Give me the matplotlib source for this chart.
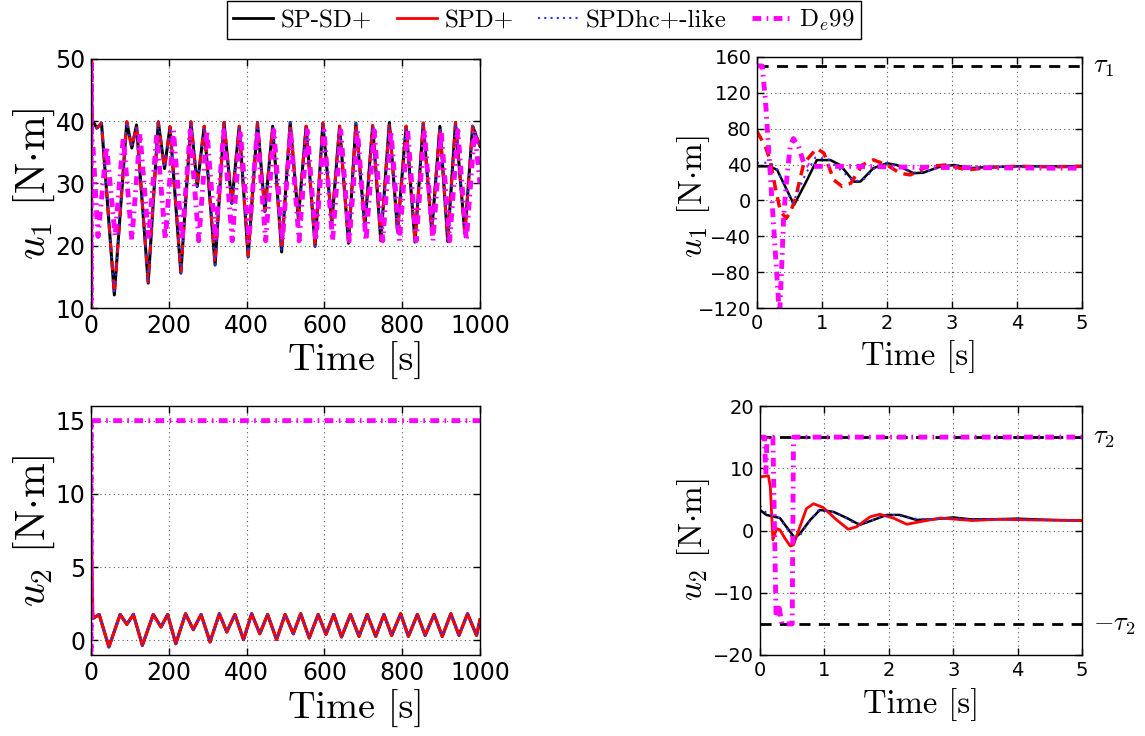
import matplotlib
matplotlib.use("Agg")
import matplotlib.pyplot as plt
from matplotlib.lines import Line2D

# ---------------- data ----------------
# long run, u1
t_u1_long = [0, 0.6, 1, 3, 15, 27, 60, 92, 105, 117, 147, 173, 189, 203, 231, 257, 273, 291,
             319, 342, 362, 381, 404, 428, 447, 467, 490, 512, 533, 553, 576, 596, 619, 639,
             662, 681, 704, 724, 745, 767, 788, 810, 833, 854, 876, 897, 917, 937, 961, 981, 1000]
u1_black_long = [38, -5, 45, 40.2, 38.9, 39.7, 12.1, 39.9, 35.7, 39.4, 14.0, 39.9, 32.4, 39.1,
                 15.6, 39.9, 29.5, 39.2, 16.9, 39.8, 26.8, 39.2, 18.2, 39.8, 25.5, 39.2, 19.0,
                 39.8, 24.4, 39.2, 19.9, 39.7, 23.6, 39.2, 20.4, 39.7, 23.1, 39.3, 20.8, 39.8,
                 22.3, 39.2, 20.6, 39.7, 22.3, 39.2, 20.7, 39.8, 22.0, 39.2, 36]
u1_red_long = [77, -20, 58, 40.2, 38.9, 39.7, 12.3, 39.9, 35.7, 39.4, 14.2, 39.9, 32.4, 39.1,
               15.8, 39.9, 29.5, 39.2, 17.1, 39.8, 26.8, 39.2, 18.4, 39.8, 25.5, 39.2, 19.2,
               39.8, 24.4, 39.2, 20.1, 39.7, 23.6, 39.2, 20.6, 39.7, 23.1, 39.3, 21.0, 39.8,
               22.3, 39.2, 20.8, 39.7, 22.3, 39.2, 20.9, 39.8, 22.0, 39.2, 36]
u1_blue_long = u1_black_long
t_u1_de_long = [0, 0.35, 0.56, 1, 5,
                18, 40, 62, 83, 105, 126, 148, 169, 191, 212, 234, 255,
                277, 298, 320, 341, 363, 384, 406, 427, 449, 470, 492, 513,
                535, 556, 578, 599, 621, 642, 664, 685, 707, 728, 750, 771,
                793, 814, 836, 857, 879, 900, 922, 943, 965, 986, 1000]
u1_de_long = [150, -120, 69, 38, 36,
              21.5, 36.0, 21.5, 37.5, 21.0, 38.0, 21.0, 38.0, 21.0, 38.5, 20.8, 38.5,
              20.8, 38.5, 20.8, 38.5, 20.8, 38.5, 20.8, 38.5, 20.8, 38.5, 20.8, 38.5,
              20.8, 38.5, 20.8, 38.5, 20.8, 38.5, 20.8, 38.5, 20.8, 38.5, 20.8, 38.5,
              20.8, 38.5, 20.8, 38.5, 20.8, 38.5, 20.8, 38.5, 20.8, 38.5, 30]

# long run, u2
t_u2_long = [0, 5, 21, 46, 75, 92, 109, 132, 160, 180, 197, 218, 243, 263, 283, 306, 330, 349,
             370, 392, 413, 434, 454, 477, 499, 520, 539, 561, 584, 604, 624, 644, 667, 689,
             710, 732, 753, 773, 796, 816, 839, 859, 882, 903, 925, 946, 968, 991, 1000]
u2_black_long = [3.3, 1.5, 1.77, -0.45, 1.77, 1.09, 1.77, -0.34, 1.77, 0.91, 1.77, -0.23, 1.82,
                 0.73, 1.77, -0.11, 1.82, 0.57, 1.77, 0.05, 1.82, 0.45, 1.77, 0.05, 1.77, 0.45,
                 1.82, 0.16, 1.77, 0.41, 1.77, 0.23, 1.77, 0.27, 1.77, 0.27, 1.77, 0.34, 1.82,
                 0.27, 1.77, 0.34, 1.77, 0.27, 1.82, 0.34, 1.82, 0.34, 1.4]
u2_red_long = [8.6, 1.5, 1.77, -0.45, 1.77, 1.09, 1.77, -0.34, 1.77, 0.91, 1.77, -0.23, 1.82,
               0.73, 1.77, -0.11, 1.82, 0.57, 1.77, 0.05, 1.82, 0.45, 1.77, 0.05, 1.77, 0.45,
               1.82, 0.16, 1.77, 0.41, 1.77, 0.23, 1.77, 0.27, 1.77, 0.27, 1.77, 0.34, 1.82,
               0.27, 1.77, 0.34, 1.77, 0.27, 1.82, 0.34, 1.82, 0.34, 1.4]
u2_blue_long = u2_black_long
t_u2_de_long = [0, 0.25, 0.5, 1000]
u2_de_long = [15, -15, 15, 15]

# first 5 s, u1
t_u1_black_s = [0, 0.2, 0.31, 0.46, 0.57, 0.77, 0.92, 1.13, 1.28, 1.49, 1.59, 1.79, 2.0, 2.15,
                2.41, 2.56, 2.82, 3.03, 3.28, 3.5, 4.0, 4.5, 5.0]
u1_black_s = [38, 38, 34, 11.6, -5, 22.8, 45, 45, 39.5, 21, 21, 36, 41.5, 39.5, 30.3, 31, 37.8,
              39.5, 36, 37, 38, 38, 38]
t_u1_red_s = [0, 0.13, 0.2, 0.28, 0.36, 0.45, 0.52, 0.59, 0.72, 0.92, 1.03, 1.18, 1.31, 1.44,
              1.62, 1.79, 2.0, 2.2, 2.36, 2.62, 2.92, 3.23, 3.6, 4.0, 4.5, 5.0]
u1_red_s = [77, 60, 45, 15, -12, -20, -12, 2, 41.5, 58, 52.7, 23, 15.5, 19, 39.6, 45.2, 39.6,
            30.3, 28.5, 37.8, 39.6, 34, 37, 38, 37.5, 38]
t_u1_blue_s = [0, 0.2, 0.3, 0.45, 0.55, 0.75, 0.9, 1.1, 1.3, 1.5, 1.65, 1.85, 2.0, 2.2, 2.4,
               2.6, 2.85, 3.05, 3.3, 3.6, 4.0, 5.0]
u1_blue_s = [42, 42, 36, 12, -3, 30, 48, 46, 33, 21, 24, 39, 42, 37, 31, 32, 38, 39.5, 36.5, 37,
             38, 38]
t_u1_de_s = [0, 0.08, 0.13, 0.18, 0.23, 0.28, 0.33, 0.35, 0.38, 0.41, 0.46, 0.51, 0.56, 0.64,
             0.72, 0.82, 1.5, 2.5, 3.5, 4.5, 5.0]
u1_de_s = [150, 150, 112, 56, 0, -55, -111, -125, -74, -18, 26, 60, 69, 60, 41.5, 38, 38, 37,
           36.5, 36, 36]

# first 5 s, u2
t_u2_black_s = [0, 0.1, 0.31, 0.41, 0.54, 0.62, 0.78, 0.93, 1.14, 1.35, 1.55, 1.76, 1.97, 2.17,
                2.43, 2.69, 3.0, 3.26, 3.6, 4.0, 4.5, 5.0]
u2_black_s = [3.3, 2.5, 2.0, 0.6, -1.2, -0.5, 1.7, 3.3, 3.0, 2.0, 0.9, 1.7, 2.5, 2.5, 1.7, 1.8,
              2.1, 1.8, 1.8, 1.9, 1.7, 1.6]
t_u2_red_s = [0, 0.13, 0.16, 0.2, 0.26, 0.31, 0.39, 0.47, 0.52, 0.62, 0.72, 0.83, 0.98, 1.19,
              1.37, 1.5, 1.71, 1.86, 2.07, 2.28, 2.48, 2.8, 3.05, 3.3, 3.7, 4.2, 5.0]
u2_red_s = [8.6, 8.8, 7.0, -1.5, 0.3, 0.1, -1.3, -2.5, -2.3, 0.6, 3.5, 4.3, 3.7, 1.7, 0.2, 0.6,
            2.2, 2.6, 2.0, 1.0, 1.4, 2.0, 1.8, 1.6, 1.8, 1.7, 1.6]
t_u2_blue_s = [0, 0.1, 0.3, 0.42, 0.52, 0.62, 0.78, 0.9, 1.1, 1.3, 1.5, 1.7, 1.9, 2.1, 2.4, 2.7,
               3.0, 3.3, 3.7, 4.2, 5.0]
u2_blue_s = [4.0, 2.8, 2.0, 0.3, -1.5, -0.8, 1.6, 3.2, 3.1, 2.2, 1.0, 1.5, 2.3, 2.5, 1.9, 1.8,
             2.0, 1.8, 1.8, 1.7, 1.6]
t_u2_de_s = [0, 0.07, 0.09, 0.11, 0.2, 0.25, 0.3, 0.34, 0.38, 0.5, 0.52, 5.0]
u2_de_s = [15, 15, 9, 15, 15, -14, -12.5, -15, -15, -15, 15, 15]

tau1 = 150
tau2 = 15
series_labels = ['SP-SD+', 'SPD+', 'SPDhc+-like', r'D$_e$99']

# ---------------- style ----------------
plt.rcParams['mathtext.fontset'] = 'cm'
plt.rcParams['font.family'] = 'DejaVu Sans'
plt.rcParams['axes.unicode_minus'] = True

W, H = 1145, 736
fig = plt.figure(figsize=(W / 100, H / 100), dpi=100)


def px_axes(l, t, r, b):
    return fig.add_axes([l / W, 1 - b / H, (r - l) / W, (b - t) / H])


ax_tl = px_axes(91, 59, 480, 308)
ax_bl = px_axes(91, 406, 480, 655)
ax_tr = px_axes(757, 57, 1082, 308)
ax_br = px_axes(760, 406, 1082, 655)

BLACK = 'black'
RED = '#ff0000'
BLUE = '#3030ff'
MAG = '#ff00ff'
de_dash = (1.8, 1.1, 0.35, 1.1)


def style(ax, tick_size):
    ax.tick_params(direction='in', top=True, right=True, length=5, width=1,
                   labelsize=tick_size, pad=4)
    for s in ax.spines.values():
        s.set_linewidth(1.0)
    ax.grid(True, linestyle=(0, (1, 3)), color='0.35', linewidth=0.8)
    ax.set_axisbelow(True)


label_font = 'cmr10'

# top-left
ax = ax_tl
ax.plot(t_u1_long, u1_black_long, color=BLACK, lw=2.2)
ax.plot(t_u1_long, u1_red_long, color=RED, lw=2.2, dashes=(3, 3))
ax.plot(t_u1_long, u1_blue_long, color=BLUE, lw=1.5, dashes=(1, 3))
ax.plot(t_u1_de_long, u1_de_long, color=MAG, lw=3.5, dashes=de_dash)
ax.set_xlim(0, 1000)
ax.set_ylim(10, 50)
ax.set_xticks(range(0, 1001, 200))
ax.set_yticks(range(10, 51, 10))
style(ax, 17)
ax.set_xlabel('Time [s]', family=label_font, fontsize=27.5)
ax.set_ylabel(r'$u_1$ [N$\cdot$m]', family=label_font, fontsize=30)
ax.xaxis.set_label_coords(0.681, -0.135)
ax.yaxis.set_label_coords(-0.087, 0.5)

# bottom-left
ax = ax_bl
ax.plot(t_u2_long, u2_black_long, color=BLACK, lw=2.2)
ax.plot(t_u2_long, u2_red_long, color=RED, lw=2.2)
ax.plot(t_u2_long, u2_blue_long, color=BLUE, lw=1.5, dashes=(1, 3))
ax.plot(t_u2_de_long, u2_de_long, color=MAG, lw=3.5, dashes=de_dash)
ax.set_xlim(0, 1000)
ax.set_ylim(-1, 16)
ax.set_xticks(range(0, 1001, 200))
ax.set_yticks([0, 5, 10, 15])
style(ax, 17)
ax.set_xlabel('Time [s]', family=label_font, fontsize=27.5)
ax.set_ylabel(r'$u_2$ [N$\cdot$m]', family=label_font, fontsize=30)
ax.xaxis.set_label_coords(0.681, -0.14)
ax.yaxis.set_label_coords(-0.087, 0.5)

# top-right
ax = ax_tr
ax.axhline(tau1, color=BLACK, lw=2, dashes=(4, 3))
ax.plot(t_u1_black_s, u1_black_s, color=BLACK, lw=1.8)
ax.plot(t_u1_red_s, u1_red_s, color=RED, lw=2.5, dashes=(3, 2))
ax.plot(t_u1_blue_s, u1_blue_s, color=BLUE, lw=1.5, dashes=(1, 2.5))
ax.plot(t_u1_de_s, u1_de_s, color=MAG, lw=3.5, dashes=de_dash)
ax.set_xlim(0, 5)
ax.set_ylim(-120, 160)
ax.set_xticks(range(0, 6))
ax.set_yticks(range(-120, 161, 40))
style(ax, 14)
ax.set_xlabel('Time [s]', family=label_font, fontsize=23.5)
ax.set_ylabel(r'$u_1$ [N$\cdot$m]', family=label_font, fontsize=24)
ax.xaxis.set_label_coords(0.5, -0.127)
ax.yaxis.set_label_coords(-0.14, 0.442)
ax.text(1.035, tau1, r'$\tau_1$', transform=ax.get_yaxis_transform(), fontsize=19,
        va='center', ha='left')

# bottom-right
ax = ax_br
ax.axhline(tau2, color=BLACK, lw=2, dashes=(4, 3))
ax.axhline(-tau2, color=BLACK, lw=2, dashes=(4, 3))
ax.plot(t_u2_black_s, u2_black_s, color=BLACK, lw=1.8)
ax.plot(t_u2_red_s, u2_red_s, color=RED, lw=2.0)
ax.plot(t_u2_blue_s, u2_blue_s, color=BLUE, lw=1.5, dashes=(1, 2.5))
ax.plot(t_u2_de_s, u2_de_s, color=MAG, lw=3.5, dashes=de_dash)
ax.set_xlim(0, 5)
ax.set_ylim(-20, 20)
ax.set_xticks(range(0, 6))
ax.set_yticks([-20, -10, 0, 10, 20])
style(ax, 14)
ax.set_xlabel('Time [s]', family=label_font, fontsize=23.5)
ax.set_ylabel(r'$u_2$ [N$\cdot$m]', family=label_font, fontsize=24)
ax.xaxis.set_label_coords(0.5, -0.133)
ax.yaxis.set_label_coords(-0.15, 0.462)
ax.text(1.035, tau2, r'$\tau_2$', transform=ax.get_yaxis_transform(), fontsize=19,
        va='center', ha='left')
ax.text(1.035, -tau2, r'$-\tau_2$', transform=ax.get_yaxis_transform(), fontsize=19,
        va='center', ha='left')

# legend
handles = [Line2D([], [], color=BLACK, lw=2),
           Line2D([], [], color=RED, lw=2),
           Line2D([], [], color=BLUE, lw=1.5, dashes=(1, 2)),
           Line2D([], [], color=MAG, lw=3.5, dashes=de_dash)]
leg = fig.legend(handles, series_labels, loc='upper center',
                 bbox_to_anchor=(544 / W, 1 - 1 / H), ncol=4, frameon=True,
                 fancybox=False, edgecolor='black', framealpha=1,
                 prop={'family': label_font, 'size': 18}, handlelength=1.6,
                 handletextpad=0.3, columnspacing=1.0, borderpad=0.25,
                 borderaxespad=0)
leg.get_frame().set_linewidth(1.0)

fig.savefig('out.png', dpi=100)
